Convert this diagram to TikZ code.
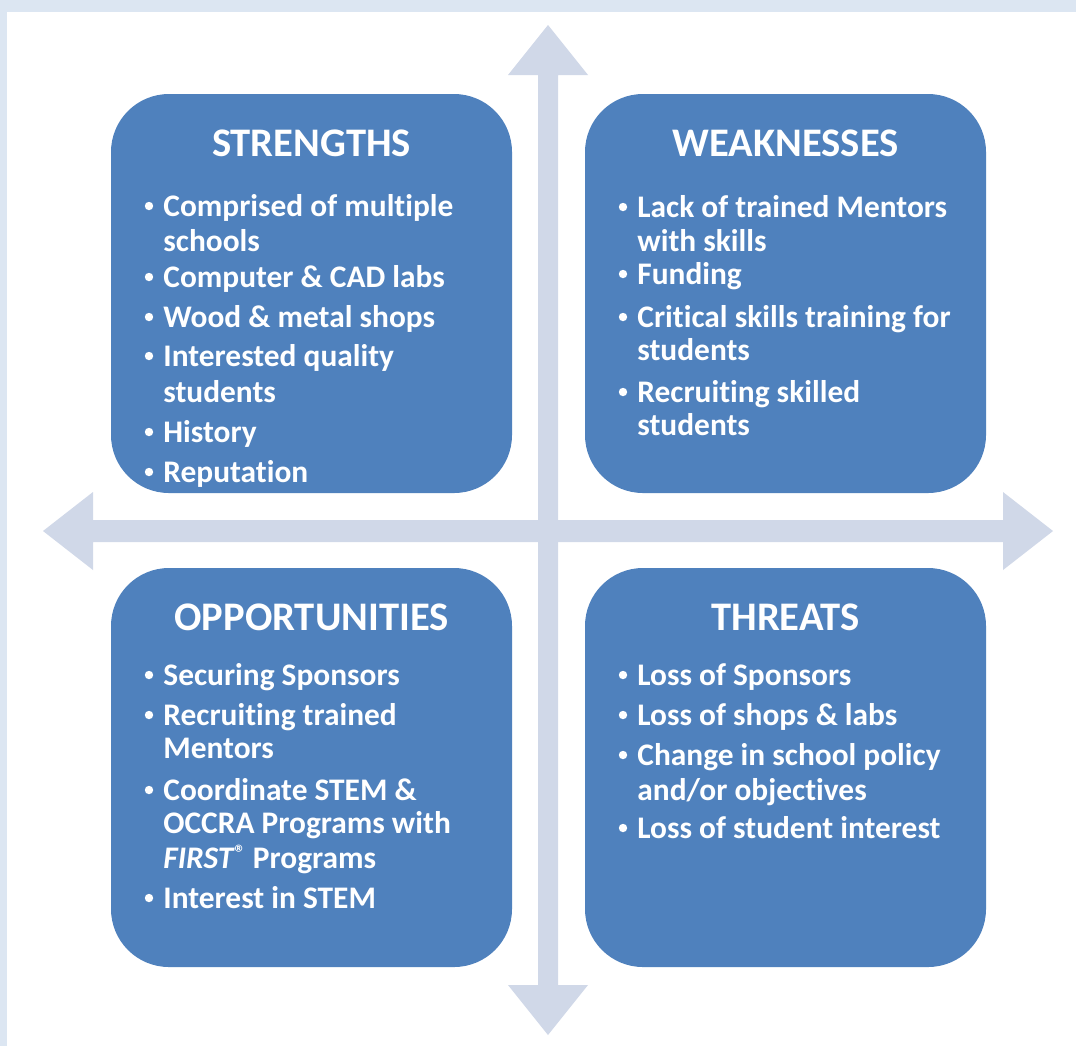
\documentclass[tikz,border=0pt]{standalone}
\usepackage{fontspec}
\setmainfont{Carlito}[Ligatures=NoCommon]
\definecolor{boxblue}{HTML}{4F81BD}
\definecolor{crossgray}{HTML}{D0D8E8}
\definecolor{framegray}{HTML}{DCE6F2}

\begin{document}
\begin{tikzpicture}[x=0.5pt, y=-0.5pt,
    quad/.style={rectangle, rounded corners=29pt, fill=boxblue, inner sep=0pt,
        minimum width=200.5pt, minimum height=199.5pt},
    heading/.style={text=white, anchor=base, inner sep=0pt,
        font=\fontsize{20.3}{24}\selectfont\bfseries},
    entry/.style={text=white, anchor=base west, inner sep=0pt,
        font=\fontsize{15.7}{17}\selectfont\bfseries},
    dot/.style={circle, fill=white, inner sep=0pt, minimum size=4.2pt}]
    \useasboundingbox (0,0) rectangle (1076,1046);
    % frame and page
    \fill[framegray] (0,0) rectangle (1076,1046);
    \fill[white] (7,12) rectangle (1076,1046);

    % the cross
    \fill[crossgray] (548,25) -- (588,75) -- (558,75) -- (558,985) -- (588,985)
        -- (548,1035) -- (508,985) -- (538,985) -- (538,75) -- (508,75) -- cycle;
    \fill[crossgray] (43,531) -- (93,492) -- (93,520) -- (1003,520) -- (1003,492)
        -- (1053,531) -- (1003,570) -- (1003,542) -- (93,542) -- (93,570) -- cycle;

    % four quadrants
    \node[quad] (S) at (311.5,293.5) {};
    \node[quad] (W) at (785.5,293.5) {};
    \node[quad] (O) at (311.5,767.5) {};
    \node[quad] (T) at (785.5,767.5) {};

    \node[heading] (Sh) at (311.5,156) {STRENGTHS};
    \node[heading] (Wh) at (785.5,156) {WEAKNESSES};
    \node[heading] (Oh) at (311.5,630) {OPPORTUNITIES};
    \node[heading] (Th) at (785.5,630) {THREATS};

    % strengths
    \foreach \y/\t [count=\i] in {216/{Comprised of multiple}, 251/schools,
        287/{Computer \& CAD labs}, 327/{Wood \& metal shops},
        366/{Interested quality}, 402/students, 442/History, 482/Reputation}
        \node[entry] (s\i) at (163,\y) {\t};
    \foreach \y [count=\i] in {216,287,327,366,442,482}
        \node[dot] (sb\i) at (149,\y-10) {};

    % weaknesses
    \foreach \y/\t [count=\i] in {217/{Lack of trained Mentors}, 251/{with skills},
        284/Funding, 327/{Critical skills training for}, 360/students,
        402/{Recruiting skilled}, 435/students}
        \node[entry] (w\i) at (637,\y) {\t};
    \foreach \y [count=\i] in {217,284,327,402}
        \node[dot] (wb\i) at (623,\y-10) {};

    % opportunities
    \foreach \y/\t [count=\i] in {685/{Securing Sponsors}, 725/{Recruiting trained},
        758/Mentors, 800/{Coordinate STEM \&}, 833/{OCCRA Programs with},
        868/{\textit{FIRST}\raisebox{4pt}{\fontsize{11}{11}\selectfont ®} Programs},
        908/{Interest in STEM}}
        \node[entry] (o\i) at (163,\y) {\t};
    \foreach \y [count=\i] in {685,725,800,908}
        \node[dot] (ob\i) at (149,\y-10) {};

    % threats
    \foreach \y/\t [count=\i] in {685/{Loss of Sponsors}, 725/{Loss of shops \& labs},
        765/{Change in school policy}, 800/{and/or objectives},
        838/{Loss of student interest}}
        \node[entry] (t\i) at (637,\y) {\t};
    \foreach \y [count=\i] in {685,725,765,838}
        \node[dot] (tb\i) at (623,\y-10) {};
\end{tikzpicture}
\end{document}
